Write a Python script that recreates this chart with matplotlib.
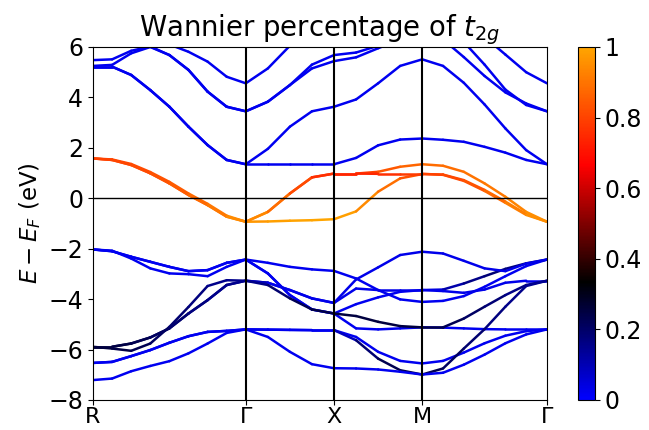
import numpy as np
import matplotlib
matplotlib.use('Agg')
import matplotlib.pyplot as plt
from matplotlib.collections import LineCollection
from matplotlib.colors import LinearSegmentedColormap, Normalize

# high-symmetry path R-G-X-M-G (simple cubic, units of 2pi/a)
labels = ['R', r'$\Gamma$', 'X', 'M', r'$\Gamma$']
seg_len = [np.sqrt(3) / 2, 0.5, 0.5, np.sqrt(2) / 2]
seg_pts = [9, 5, 5, 7]

# band energies (eV) along the path, 23 k-points (9 + 4 + 4 + 6)
# O-2p bands
o1 = [-2.03, -2.10, -2.32, -2.52, -2.72, -2.89, -2.85, -2.56, -2.43,
      -2.56, -2.72, -2.82, -2.88,
      -3.18, -3.64, -4.01, -4.11,
      -4.07, -3.88, -3.51, -3.09, -2.69, -2.43]
o2 = [-2.03, -2.08, -2.39, -2.78, -2.98, -3.01, -3.09, -2.72, -2.43,
      -2.98, -3.84, -4.41, -4.57,
      -4.20, -3.93, -3.71, -3.64,
      -3.62, -3.38, -3.09, -2.80, -2.58, -2.43]
o3 = [-2.03, -2.10, -2.32, -2.52, -2.72, -2.89, -2.85, -2.56, -2.43,
      -2.98, -3.84, -4.41, -4.57,
      -5.16, -5.20, -5.16, -5.12,
      -5.13, -5.16, -5.19, -5.20, -5.20, -5.20]
o4 = [-5.89, -5.89, -5.76, -5.52, -5.16, -4.57, -4.04, -3.44, -3.27,
      -3.35, -3.64, -3.97, -4.15,
      -3.22, -2.74, -2.25, -2.12,
      -2.19, -2.48, -2.78, -2.89, -2.59, -2.43]
o5 = [-5.89, -5.89, -5.76, -5.52, -5.16, -4.57, -4.04, -3.44, -3.27,
      -3.35, -3.64, -3.97, -4.15,
      -3.58, -3.64, -3.64, -3.64,
      -3.68, -3.75, -3.62, -3.35, -3.27, -3.27]
o6 = [-5.89, -5.96, -6.05, -5.76, -5.10, -4.31, -3.48, -3.25, -3.27,
      -3.44, -3.97, -4.41, -4.57,
      -4.67, -4.90, -5.07, -5.12,
      -5.12, -4.77, -4.30, -3.84, -3.44, -3.27]
o7 = [-6.53, -6.49, -6.26, -6.02, -5.73, -5.47, -5.30, -5.26, -5.20,
      -5.21, -5.22, -5.23, -5.23,
      -5.50, -6.09, -6.45, -6.55,
      -6.45, -6.12, -5.75, -5.45, -5.27, -5.20]
o8 = [-6.53, -6.49, -6.26, -6.02, -5.73, -5.47, -5.30, -5.26, -5.20,
      -5.21, -5.22, -5.23, -5.23,
      -5.63, -6.36, -6.82, -6.99,
      -6.75, -5.96, -5.19, -4.30, -3.48, -3.27]
o9 = [-7.21, -7.15, -6.86, -6.65, -6.46, -6.15, -5.76, -5.34, -5.20,
      -5.50, -6.09, -6.58, -6.74,
      -6.75, -6.79, -6.88, -6.99,
      -6.92, -6.60, -6.20, -5.75, -5.40, -5.20]
# t2g bands
t1 = [1.58, 1.52, 1.32, 0.99, 0.59, 0.13, -0.27, -0.73, -0.93,
      -0.92, -0.89, -0.87, -0.83,
      -0.52, 0.26, 0.79, 0.96,
      0.94, 0.72, 0.33, -0.13, -0.63, -0.93]
t2 = [1.58, 1.54, 1.36, 1.04, 0.65, 0.19, -0.22, -0.69, -0.93,
      -0.54, 0.19, 0.83, 0.98,
      0.98, 1.05, 1.25, 1.35,
      1.29, 1.05, 0.59, 0.06, -0.54, -0.93]
t3 = [1.58, 1.52, 1.32, 0.99, 0.59, 0.13, -0.27, -0.73, -0.93,
      -0.54, 0.19, 0.83, 0.98,
      0.98, 0.97, 0.97, 0.97,
      0.93, 0.69, 0.29, -0.18, -0.66, -0.93]
# eg and higher bands
u1 = [5.22, 5.22, 4.89, 4.29, 3.63, 2.84, 2.11, 1.52, 1.35,
      1.35, 1.35, 1.35, 1.35,
      1.60, 2.10, 2.33, 2.37,
      2.32, 2.24, 2.04, 1.81, 1.52, 1.35]
u2 = [5.22, 5.22, 4.89, 4.29, 3.63, 2.84, 2.11, 1.52, 1.35,
      1.96, 2.84, 3.45, 3.63,
      3.92, 4.56, 5.25, 5.51,
      5.25, 4.58, 3.72, 2.77, 1.91, 1.35]
u3 = [5.48, 5.51, 5.85, 6.02, 5.68, 5.09, 4.23, 3.63, 3.45,
      3.83, 4.49, 5.15, 5.44,
      5.59, 5.95, 6.30, 6.60,
      6.30, 5.60, 4.85, 4.20, 3.76, 3.45]
u4 = [5.25, 5.29, 5.75, 6.00, 5.68, 5.09, 4.23, 3.63, 3.45,
      3.83, 4.49, 5.30, 5.68,
      5.78, 6.05, 6.40, 6.70,
      6.60, 6.20, 5.30, 4.31, 3.70, 3.45]
u5 = [7.00, 6.90, 6.70, 6.50, 6.10, 5.81, 5.42, 4.82, 4.56,
      5.15, 6.05, 6.50, 6.70,
      6.90, 7.00, 7.10, 7.10,
      7.00, 6.70, 6.40, 5.70, 5.00, 4.56]

# t2g Wannier weight at each k-point
w_o = [0.02] * 23
w_o2 = [0.02] * 17 + [0.08, 0.14, 0.18, 0.18, 0.15, 0.12]
w_o45 = [0.25, 0.25, 0.24, 0.22, 0.20, 0.18, 0.16, 0.15, 0.15] + [0.03] * 14
w_o6 = [0.25, 0.25, 0.24, 0.22, 0.20, 0.18, 0.16, 0.15, 0.15,
        0.17, 0.21, 0.24, 0.25,
        0.25, 0.25, 0.25, 0.25,
        0.24, 0.22, 0.19, 0.17, 0.15, 0.15]
w_o8 = [0.02] * 13 + [0.15, 0.22, 0.24, 0.24,
                      0.22, 0.20, 0.18, 0.16, 0.15, 0.14]
w_t1 = [0.80, 0.80, 0.81, 0.82, 0.84, 0.86, 0.89, 0.93, 0.96,
        0.98, 0.99, 1.00, 1.00,
        0.97, 0.92, 0.86, 0.80,
        0.80, 0.82, 0.85, 0.90, 0.94, 0.96]
w_t2 = [0.80, 0.80, 0.81, 0.82, 0.84, 0.86, 0.89, 0.93, 0.96,
        0.92, 0.85, 0.78, 0.74,
        0.78, 0.82, 0.86, 0.88,
        0.88, 0.89, 0.90, 0.92, 0.94, 0.96]
w_t3 = [0.80, 0.80, 0.81, 0.82, 0.84, 0.86, 0.89, 0.93, 0.96,
        0.92, 0.85, 0.78, 0.74,
        0.74, 0.75, 0.77, 0.80,
        0.80, 0.82, 0.85, 0.90, 0.94, 0.96]

bands = [u1, u2, u3, u4, u5, o1, o2, o3, o4, o5, o6, o7, o8, o9, t1, t2, t3]
weights = [w_o, w_o, w_o, w_o, w_o, w_o, w_o2, w_o, w_o45, w_o45, w_o6,
           w_o, w_o8, w_o, w_t1, w_t2, w_t3]

# k-point distances along the path
k = [0.0]
for L, n in zip(seg_len, seg_pts):
    k.extend(list(k[-1] + np.linspace(0, L, n)[1:]))
k = np.array(k)
ticks = np.concatenate([[0], np.cumsum(seg_len)])

cmap = LinearSegmentedColormap.from_list('t2g', ['blue', 'black', 'red', 'orange'])
norm = Normalize(0, 1)

plt.rcParams['font.size'] = 16.5
plt.rcParams['xtick.labelsize'] = 16
plt.rcParams['ytick.labelsize'] = 17
plt.rcParams['xtick.major.pad'] = 1.5
fig = plt.figure(figsize=(6.49, 4.3), dpi=100)
ax = fig.add_axes([0.1433, 0.0698, 0.6995, 0.8209])

for e, w in zip(bands, weights):
    e = np.array(e)
    w = np.array(w)
    pts = np.column_stack([k, e]).reshape(-1, 1, 2)
    segs = np.concatenate([pts[:-1], pts[1:]], axis=1)
    lc = LineCollection(segs, cmap=cmap, norm=norm, linewidth=1.8,
                        capstyle='round')
    lc.set_array((w[:-1] + w[1:]) / 2)
    ax.add_collection(lc)

for t in ticks[1:-1]:
    ax.axvline(t, color='black', lw=1.5)
ax.axhline(0, color='black', lw=1.0)

ax.set_xlim(ticks[0], ticks[-1])
ax.set_ylim(-8, 6)
ax.set_xticks(ticks)
ax.set_xticklabels(labels)
ax.set_yticks([-8, -6, -4, -2, 0, 2, 4, 6])
ax.set_ylabel(r'$E-E_F$ (eV)')
ax.set_title(r'Wannier percentage of $t_{2g}$', pad=3)

cax = fig.add_axes([0.8906, 0.0698, 0.0262, 0.8209])
sm = plt.cm.ScalarMappable(cmap=cmap, norm=norm)
cb = fig.colorbar(sm, cax=cax, ticks=[0, 0.2, 0.4, 0.6, 0.8, 1])
cb.ax.set_yticklabels(['0', '0.2', '0.4', '0.6', '0.8', '1'])

fig.savefig('out.png', dpi=100)
